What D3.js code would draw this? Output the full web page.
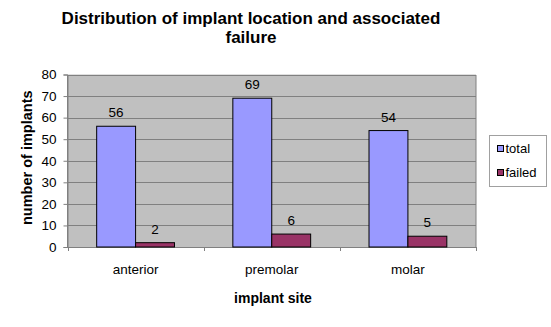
<!DOCTYPE html>
<html>
<head>
<meta charset="utf-8">
<script src="https://cdn.jsdelivr.net/npm/d3@7"></script>
<style>
  body { margin: 0; background: #fff; }
  text { font-family: Arial, "Liberation Sans", sans-serif; fill: #000; }
</style>
</head>
<body>
<div id="chart"></div>
<script>
// chart data
const sites = ["anterior", "premolar", "molar"];
const seriesNames = ["total", "failed"];
const totalValues = [56, 69, 54];
const failedValues = [2, 6, 5];
const yTicks = [0, 10, 20, 30, 40, 50, 60, 70, 80];
const titleLines = ["Distribution of implant location and associated", "failure"];

const colors = { total: "#9999ff", failed: "#993366" };

const width = 551, height = 327;
const plot = { left: 67.5, right: 476, top: 74.5, bottom: 247 };

const svg = d3.select("#chart").append("svg")
    .attr("width", width)
    .attr("height", height);

//SCALES
const xScale = d3.scaleBand()
    .domain(sites)
    .range([plot.left, plot.right])
    .paddingInner(0)
    .paddingOuter(0);

const yScale = d3.scaleLinear()
    .domain([0, 80])
    .range([plot.bottom, plot.top]);

// bar width follows a 150% gap between groups
const barWidth = xScale.bandwidth() / 3.5;
const xSub = d3.scaleBand()
    .domain(seriesNames)
    .range([0.75 * barWidth, 2.75 * barWidth]);

//PLOT BACKGROUND
svg.append("rect")
    .attr("x", plot.left)
    .attr("y", plot.top)
    .attr("width", plot.right - plot.left)
    .attr("height", plot.bottom - plot.top)
    .attr("fill", "#c0c0c0");

//GRID LINES
svg.append("g")
    .selectAll("line")
    .data(yTicks.filter(d => d > 0))
    .enter()
    .append("line")
    .attr("x1", plot.left)
    .attr("x2", plot.right)
    .attr("y1", d => Math.round(yScale(d)) + 0.5)
    .attr("y2", d => Math.round(yScale(d)) + 0.5)
    .attr("stroke", "#808080")
    .attr("stroke-width", 1);

// plot border
svg.append("rect")
    .attr("x", plot.left)
    .attr("y", Math.round(plot.top) + 0.5)
    .attr("width", plot.right - plot.left)
    .attr("height", plot.bottom - Math.round(plot.top))
    .attr("fill", "none")
    .attr("stroke", "#808080");

//BARS
const data = sites.map((s, i) => ({ site: s, total: totalValues[i], failed: failedValues[i] }));

const groups = svg.append("g")
    .selectAll("g")
    .data(data)
    .enter()
    .append("g")
    .attr("transform", d => `translate(${xScale(d.site)},0)`);

groups.selectAll("rect")
    .data(d => seriesNames.map(k => ({ key: k, value: d[k] })))
    .enter()
    .append("rect")
    .attr("x", d => xSub(d.key))
    .attr("y", d => yScale(d.value))
    .attr("width", xSub.bandwidth())
    .attr("height", d => yScale(0) - yScale(d.value))
    .attr("fill", d => colors[d.key])
    .attr("stroke", "#000")
    .attr("stroke-width", 1);

groups.selectAll("text")
    .data(d => seriesNames.map(k => ({ key: k, value: d[k] })))
    .enter()
    .append("text")
    .attr("x", d => xSub(d.key) + xSub.bandwidth() / 2)
    .attr("y", d => yScale(d.value) - 9)
    .attr("text-anchor", "middle")
    .attr("font-size", "13.5px")
    .text(d => d.value);

//AXES
const yAxis = svg.append("g")
    .attr("transform", `translate(${plot.left},0)`)
    .call(d3.axisLeft(yScale).tickValues(yTicks).tickSize(4).tickPadding(7));
yAxis.select(".domain").attr("stroke", "#808080");
yAxis.selectAll(".tick line").attr("stroke", "#808080");
yAxis.selectAll(".tick text")
    .attr("font-size", "13.5px")
    .attr("font-family", "Arial, 'Liberation Sans', sans-serif")
    .attr("fill", "#000");

const xAxis = svg.append("g")
    .attr("transform", `translate(0,${plot.bottom})`)
    .call(d3.axisBottom(xScale).tickSize(0).tickPadding(17));
xAxis.select(".domain").remove();
xAxis.selectAll(".tick text")
    .attr("font-size", "13.5px")
    .attr("font-family", "Arial, 'Liberation Sans', sans-serif")
    .attr("fill", "#000");

// category boundary ticks
svg.append("g")
    .selectAll("line")
    .data(sites.map(s => xScale(s)).concat([xScale.range()[1]]))
    .enter()
    .append("line")
    .attr("x1", d => Math.round(d) + 0.5)
    .attr("x2", d => Math.round(d) + 0.5)
    .attr("y1", plot.bottom)
    .attr("y2", plot.bottom + 4)
    .attr("stroke", "#808080");

//TITLES
svg.append("g")
    .selectAll("text")
    .data(titleLines)
    .enter()
    .append("text")
    .attr("x", 251)
    .attr("y", (d, i) => 24 + i * 19)
    .attr("text-anchor", "middle")
    .attr("font-size", "17px")
    .attr("font-weight", "bold")
    .text(d => d);

svg.append("text")
    .attr("x", 273)
    .attr("y", 303)
    .attr("text-anchor", "middle")
    .attr("font-size", "14px")
    .attr("font-weight", "bold")
    .text("implant site");

svg.append("text")
    .attr("transform", `translate(32,${(plot.top + plot.bottom) / 2 - 3}) rotate(-90)`)
    .attr("text-anchor", "middle")
    .attr("font-size", "14.5px")
    .attr("font-weight", "bold")
    .text("number of implants");

//LEGEND
const legend = svg.append("g")
    .attr("transform", "translate(489.5,135.5)");

legend.append("rect")
    .attr("width", 57)
    .attr("height", 51)
    .attr("fill", "#fff")
    .attr("stroke", "#a0a0a0");

const items = legend.selectAll(".item")
    .data(seriesNames)
    .enter()
    .append("g")
    .attr("class", "item")
    .attr("transform", (d, i) => `translate(8,${13 + i * 24})`);

items.append("rect")
    .attr("x", 0)
    .attr("y", -3)
    .attr("width", 6)
    .attr("height", 6)
    .attr("fill", d => colors[d])
    .attr("stroke", "#000");

items.append("text")
    .attr("x", 8)
    .attr("y", 4.5)
    .attr("font-size", "13px")
    .text(d => d);
</script>
</body>
</html>
